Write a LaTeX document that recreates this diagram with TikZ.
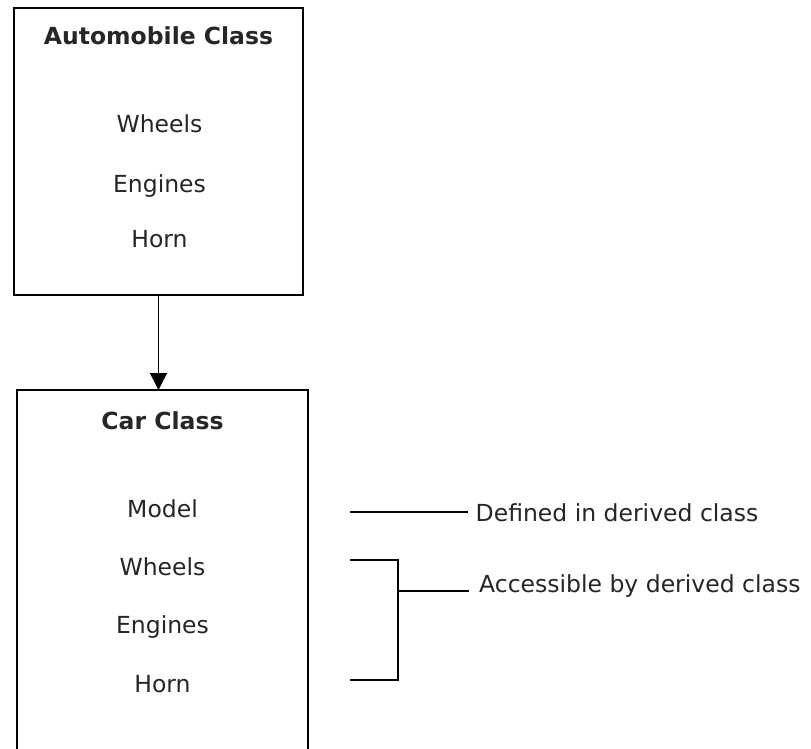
\documentclass[tikz,border=0pt]{standalone}
\usepackage{fontspec}
\setmainfont{DejaVu Sans}
\usetikzlibrary{arrows.meta,positioning}

\begin{document}
\begin{tikzpicture}[x=1pt,y=-1pt,
        member/.style={anchor=base,inner sep=0pt,text=black!85,font=\fontsize{23.5}{27}\selectfont},
        classname/.style={member,font=\fontsize{23.5}{27}\selectfont\bfseries},
        note/.style={anchor=base west,inner sep=0pt,text=black!85,font=\fontsize{23.5}{27}\selectfont},
        classbox/.style={inner sep=0pt,line width=2pt},
        link/.style={line width=1.6pt}]
        \useasboundingbox (0,0) rectangle (811,749);
        \fill[white] (0,0) rectangle (811,749);

        \coordinate (a) at (158.5,151.5);
        \coordinate (c) at (162.5,570);

        \node[classbox,draw,minimum width=289pt,minimum height=287pt] (autobox) at (a){};
        \node[classbox,minimum width=289pt,minimum height=358pt] (carbox) at (c){};
        \draw[classbox] (carbox.south west) |- (carbox.north east) -- (carbox.south east);

        \node[classname] (autoname) at (158.5,45){Automobile Class};
        \node[member] (autowheels) at (159.5,133){Wheels};
        \node[member] (autoengines) at (159.5,192){Engines};
        \node[member] (autohorn) at (159.5,247){Horn};

        \node[classname] (carname) at (162.5,429){Car Class};
        \node[member] (carmodel) at (162.5,517){Model};
        \node[member] (carwheels) at (162.5,575){Wheels};
        \node[member] (carengines) at (162.5,633){Engines};
        \node[member] (carhorn) at (162.5,692){Horn};

        \draw[link,-{Triangle[width=17pt,length=17pt]}] (autobox.south) -- (autobox.south |- carbox.north);

        % notes on the right
        \coordinate (m) at (350,512);
        \coordinate (wtop) at (350,560);
        \coordinate (hbot) at (350,680);
        \coordinate (bar) at (398,591);

        \node[note] (defined) at (475.5,521){Defined in derived class};
        \node[note] (access) at (479,592){Accessible by derived class};

        \draw[link,shorten >=8pt] (m) -- (m -| defined.west);
        \draw[link] (wtop) -| (bar) |- (hbot);
        \draw[link,shorten >=10pt] (bar) -- (bar -| access.west);
\end{tikzpicture}
\end{document}
